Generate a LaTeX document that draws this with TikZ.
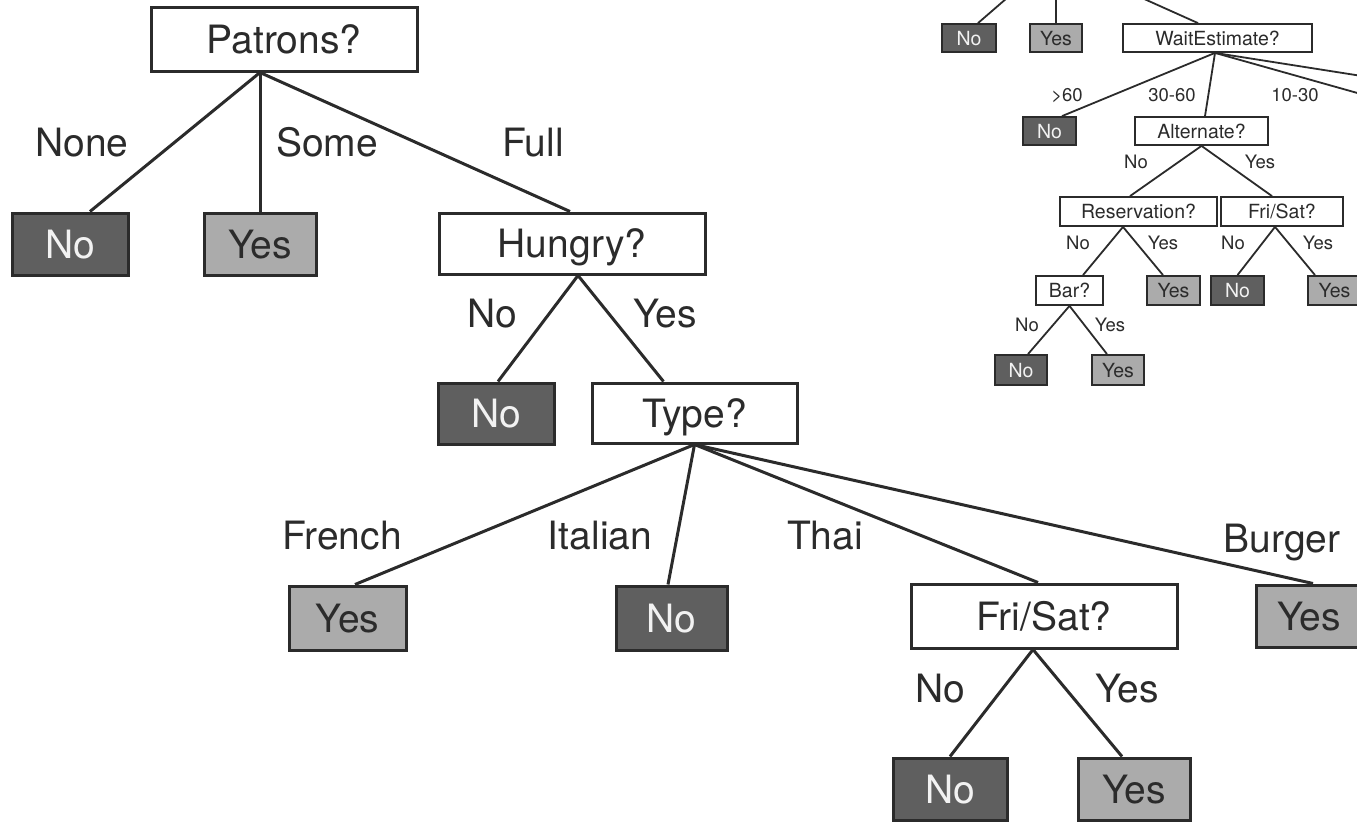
\documentclass[tikz,border=0pt]{standalone}
\usepackage{fontspec}
\setmainfont{TeX Gyre Heros}
\usetikzlibrary{calc}
\definecolor{ink}{HTML}{2B2B2B}
\definecolor{nofill}{HTML}{5F5F5F}
\definecolor{yesfill}{HTML}{ABABAB}
\definecolor{notext}{HTML}{F2F2F2}
\begin{document}
\begin{tikzpicture}[x=1pt,y=-1pt,
  bigf/.style={font=\fontsize{39}{45}\selectfont, text height=28pt, text depth=0pt},
  smallf/.style={font=\fontsize{19.5}{23}\selectfont, text height=14pt, text depth=0pt},
  boxbase/.style={rectangle, draw=ink, inner sep=0pt},
  mtest/.style={boxbase, bigf, line width=3pt, fill=white, text=ink},
  mno/.style={boxbase, bigf, line width=3pt, fill=nofill, text=notext},
  myes/.style={boxbase, bigf, line width=3pt, fill=yesfill, text=ink},
  stest/.style={boxbase, smallf, line width=1.8pt, fill=white, text=ink},
  sno/.style={boxbase, smallf, line width=1.8pt, fill=nofill, text=notext},
  syes/.style={boxbase, smallf, line width=1.8pt, fill=yesfill, text=ink},
  blab/.style={bigf, text=ink, inner sep=0pt, anchor=center},
  slab/.style={font=\fontsize{18.5}{22}\selectfont, text height=13.3pt, text depth=0pt, text=ink, inner sep=0pt, anchor=center},
  medge/.style={draw=ink, line width=3pt},
  sedge/.style={draw=ink, line width=1.8pt}
]
\useasboundingbox (0,0) rectangle (1357,822);
\clip (0,0) rectangle (1357,822);

% ---------------- main tree ----------------
\node[mtest, minimum width=266pt, minimum height=64pt] (patrons) at (284,39) {Patrons?};
\node[mno,  minimum width=116pt, minimum height=62pt] (no1) at (70,244) {No};
\node[myes, minimum width=112pt, minimum height=62pt] (yes1) at (260,244) {Yes};
\node[mtest, minimum width=266pt, minimum height=61pt] (hungry) at (572,243.5) {Hungry?};
\node[mno,  minimum width=116pt, minimum height=61pt] (no2) at (496,413.5) {No};
\node[mtest, minimum width=205pt, minimum height=60pt] (type) at (694.5,413) {Type?};
\node[myes, minimum width=117pt, minimum height=64pt] (yes3) at (347.5,618) {Yes};
\node[mno,  minimum width=111pt, minimum height=64pt] (no3) at (671.5,618) {No};
\node[mtest, minimum width=266pt, minimum height=64pt] (fri) at (1044,616) {Fri/Sat?};
\node[myes, minimum width=106pt, minimum height=62pt] (yes4) at (1309,616) {Yes};
\node[mno,  minimum width=114pt, minimum height=62pt] (no5) at (950,789) {No};
\node[myes, minimum width=112pt, minimum height=62pt] (yes5) at (1134,789) {Yes};

\draw[medge] ([xshift=-24pt]patrons.south) -- ([xshift=20pt]no1.north);
\draw[medge] ([xshift=-24pt]patrons.south) -- (yes1.north);
\draw[medge] ([xshift=-24pt]patrons.south) -- ([xshift=-2pt]hungry.north);
\draw[medge] ([xshift=6pt]hungry.south) -- ([xshift=2pt]no2.north);
\draw[medge] ([xshift=6pt]hungry.south) -- ([xshift=-31pt]type.north);
\draw[medge] (type.south) -- ([xshift=7.5pt]yes3.north);
\draw[medge] (type.south) -- ([xshift=-3.5pt]no3.north);
\draw[medge] (type.south) -- ([xshift=-6pt]fri.north);
\draw[medge] (type.south) -- ([xshift=4pt]yes4.north);
\draw[medge] ([xshift=-11pt]fri.south) -- (no5.north);
\draw[medge] ([xshift=-11pt]fri.south) -- ([xshift=-12pt]yes5.north);

\node[blab] (lnone) at (82,142) {None};
\node[blab] (lsome) at (327,142) {Some};
\node[blab] (lfull) at (533,142) {Full};
\node[blab] (lhno) at (492,313) {No};
\node[blab] (lhyes) at (665,313) {Yes};
\node[blab] (lfrench) at (342,535) {French};
\node[blab] (litalian) at (600,535) {Italian};
\node[blab] (lthai) at (825,535) {Thai};
\node[blab] (lburger) at (1282,538) {Burger};
\node[blab] (lfno) at (940,688) {No};
\node[blab] (lfyes) at (1127,688) {Yes};

% ---------------- small tree (top right) ----------------
\node[sno,  minimum width=54pt, minimum height=28pt] (sno1) at (969,38) {No};
\node[syes, minimum width=52pt, minimum height=28pt] (syes1) at (1056,38) {Yes};
\node[stest, minimum width=189pt, minimum height=28pt] (wait) at (1217.5,38) {WaitEstimate?};
\node[sno,  minimum width=53pt, minimum height=28pt] (sno2) at (1049.5,131) {No};
\node[stest, minimum width=133pt, minimum height=28pt] (alt) at (1201.5,131) {Alternate?};
\node[stest, minimum width=157pt, minimum height=29pt] (res) at (1138.5,211.5) {Reservation?};
\node[stest, minimum width=122pt, minimum height=29pt] (fri2) at (1282,211.5) {Fri/Sat?};
\node[stest, minimum width=67pt, minimum height=29pt] (bar) at (1069.5,290.5) {Bar?};
\node[syes, minimum width=53pt, minimum height=29pt] (syes2) at (1173.5,290.5) {Yes};
\node[sno,  minimum width=53pt, minimum height=29pt] (sno3) at (1237.5,290.5) {No};
\node[syes, minimum width=53pt, minimum height=29pt] (syes3) at (1334.5,290.5) {Yes};
\node[sno,  minimum width=52pt, minimum height=30pt] (sno4) at (1021,370) {No};
\node[syes, minimum width=52pt, minimum height=30pt] (syes4) at (1118,370) {Yes};

\coordinate (topa) at (1007,-2);
\coordinate (topb) at (1056,-2);
\coordinate (topc) at (1142,-2);
\coordinate (offa) at (1400,82);
\coordinate (offb) at (1400,105);

\draw[sedge] (topa) -- ([xshift=9pt]sno1.north);
\draw[sedge] (topb) -- (syes1.north);
\draw[sedge] (topc) -- ([xshift=-19.5pt]wait.north);
\draw[sedge] ([xshift=-2.5pt]wait.south) -- ([xshift=12.5pt]sno2.north);
\draw[sedge] ([xshift=-2.5pt]wait.south) -- ([xshift=3.5pt]alt.north);
\draw[sedge] ([xshift=-2.5pt]wait.south) -- (offa);
\draw[sedge] ([xshift=-2.5pt]wait.south) -- (offb);
\draw[sedge] (alt.south) -- ([xshift=-8.5pt]res.north);
\draw[sedge] (alt.south) -- ([xshift=-10pt]fri2.north);
\draw[sedge] ([xshift=-15.5pt]res.south) -- ([xshift=13.5pt]bar.north);
\draw[sedge] ([xshift=-15.5pt]res.south) -- ([xshift=-10.5pt]syes2.north);
\draw[sedge] ([xshift=-7pt]fri2.south) -- (sno3.north);
\draw[sedge] ([xshift=-7pt]fri2.south) -- ([xshift=-19.5pt]syes3.north);
\draw[sedge] (bar.south) -- ([xshift=7pt]sno4.north);
\draw[sedge] (bar.south) -- ([xshift=-11pt]syes4.north);

\node[slab] (lgt) at (1067,95) {>60};
\node[slab] (l3060) at (1172,95) {30-60};
\node[slab] (l1030) at (1295,95) {10-30};
\node[slab] (lano) at (1136,162) {No};
\node[slab] (layes) at (1260,162) {Yes};
\node[slab] (lrno) at (1078,243) {No};
\node[slab] (lryes) at (1163,243) {Yes};
\node[slab] (lfno2) at (1233,243) {No};
\node[slab] (lfyes2) at (1318,243) {Yes};
\node[slab] (lbno) at (1027,325) {No};
\node[slab] (lbyes) at (1110,325) {Yes};
\end{tikzpicture}
\end{document}
